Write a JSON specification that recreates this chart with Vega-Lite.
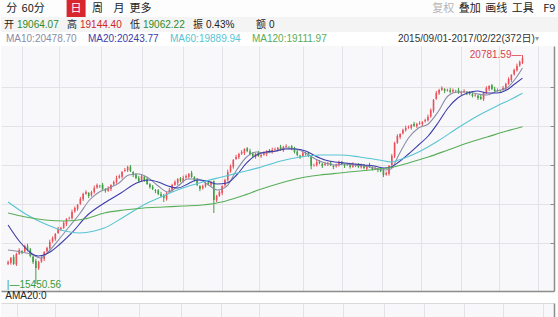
{
"$schema": "https://vega.github.io/schema/vega-lite/v6.json",
"padding": 0,
"background": "#ffffff",
"spacing": 0,
"config": {"view": {"stroke": null}, "concat": {"spacing": 0}, "font": "Liberation Sans", "axis": {"title": null, "labels": false, "ticks": false, "domain": false, "grid": false}},
"resolve": {"scale": {"x": "independent", "y": "independent", "color": "independent"}},
"datasets": {
"candles": [
{"k":0,"o":15920,"h":15998,"l":15890,"c":15963},
{"k":1,"o":15945,"h":16078,"l":15900,"c":16056},
{"k":2,"o":16081,"h":16129,"l":15896,"c":15916},
{"k":3,"o":15908,"h":16177,"l":15870,"c":16149},
{"k":4,"o":16155,"h":16282,"l":16130,"c":16242},
{"k":5,"o":16220,"h":16238,"l":16145,"c":16195},
{"k":6,"o":16210,"h":16365,"l":16182,"c":16335},
{"k":7,"o":16331,"h":16386,"l":16209,"c":16242},
{"k":8,"o":16254,"h":16289,"l":16072,"c":16102},
{"k":9,"o":16084,"h":16106,"l":15918,"c":15963},
{"k":10,"o":15988,"h":16036,"l":15450.56,"c":15823},
{"k":11,"o":15815,"h":15991,"l":15777,"c":15963},
{"k":12,"o":15969,"h":16096,"l":15944,"c":16056},
{"k":13,"o":16034,"h":16213,"l":15984,"c":16195},
{"k":14,"o":16210,"h":16319,"l":16182,"c":16289},
{"k":15,"o":16285,"h":16483,"l":16252,"c":16428},
{"k":16,"o":16440,"h":16556,"l":16410,"c":16521},
{"k":17,"o":16503,"h":16636,"l":16458,"c":16614},
{"k":18,"o":16639,"h":16779,"l":16619,"c":16731},
{"k":19,"o":16723,"h":16782,"l":16685,"c":16754},
{"k":20,"o":16760,"h":16911,"l":16735,"c":16871},
{"k":21,"o":16849,"h":16982,"l":16799,"c":16964},
{"k":22,"o":16979,"h":17017,"l":16951,"c":16987},
{"k":23,"o":16983,"h":17182,"l":16950,"c":17127},
{"k":24,"o":17139,"h":17255,"l":17109,"c":17220},
{"k":25,"o":17202,"h":17312,"l":17157,"c":17290},
{"k":26,"o":17315,"h":17477,"l":17295,"c":17429},
{"k":27,"o":17421,"h":17574,"l":17383,"c":17546},
{"k":28,"o":17552,"h":17632,"l":17527,"c":17592},
{"k":29,"o":17570,"h":17588,"l":17449,"c":17499},
{"k":30,"o":17514,"h":17622,"l":17486,"c":17592},
{"k":31,"o":17588,"h":17740,"l":17555,"c":17685},
{"k":32,"o":17697,"h":17790,"l":17667,"c":17755},
{"k":33,"o":17737,"h":17759,"l":17687,"c":17732},
{"k":34,"o":17757,"h":17805,"l":17642,"c":17662},
{"k":35,"o":17654,"h":17682,"l":17577,"c":17615},
{"k":36,"o":17621,"h":17725,"l":17596,"c":17685},
{"k":37,"o":17663,"h":17773,"l":17613,"c":17755},
{"k":38,"o":17770,"h":17855,"l":17742,"c":17825},
{"k":39,"o":17821,"h":17973,"l":17788,"c":17918},
{"k":40,"o":17930,"h":18000,"l":17900,"c":17965},
{"k":41,"o":17947,"h":18080,"l":17902,"c":18058},
{"k":42,"o":18083,"h":18152,"l":18063,"c":18104},
{"k":43,"o":18096,"h":18202,"l":18058,"c":18174},
{"k":44,"o":18180,"h":18220,"l":18056,"c":18081},
{"k":45,"o":18059,"h":18077,"l":17938,"c":17988},
{"k":46,"o":18003,"h":18033,"l":17890,"c":17918},
{"k":47,"o":17914,"h":17969,"l":17815,"c":17848},
{"k":48,"o":17860,"h":18000,"l":17830,"c":17965},
{"k":49,"o":17947,"h":17969,"l":17827,"c":17872},
{"k":50,"o":17897,"h":17945,"l":17759,"c":17779},
{"k":51,"o":17771,"h":17799,"l":17671,"c":17709},
{"k":52,"o":17715,"h":17755,"l":17637,"c":17662},
{"k":53,"o":17640,"h":17658,"l":17565,"c":17615},
{"k":54,"o":17630,"h":17660,"l":17518,"c":17546},
{"k":55,"o":17542,"h":17597,"l":17466,"c":17499},
{"k":56,"o":17511,"h":17546,"l":17360,"c":17453},
{"k":57,"o":17435,"h":17591,"l":17390,"c":17569},
{"k":58,"o":17594,"h":17687,"l":17574,"c":17639},
{"k":59,"o":17631,"h":17783,"l":17593,"c":17755},
{"k":60,"o":17761,"h":17865,"l":17736,"c":17825},
{"k":61,"o":17803,"h":17913,"l":17753,"c":17895},
{"k":62,"o":17910,"h":17940,"l":17820,"c":17848},
{"k":63,"o":17844,"h":17973,"l":17811,"c":17918},
{"k":64,"o":17930,"h":18000,"l":17900,"c":17965},
{"k":65,"o":17947,"h":18033,"l":17902,"c":18011},
{"k":66,"o":18036,"h":18084,"l":17921,"c":17941},
{"k":67,"o":17933,"h":17961,"l":17834,"c":17872},
{"k":68,"o":17878,"h":17918,"l":17730,"c":17755},
{"k":69,"o":17733,"h":17751,"l":17612,"c":17662},
{"k":70,"o":17677,"h":17762,"l":17649,"c":17732},
{"k":71,"o":17728,"h":17857,"l":17695,"c":17802},
{"k":72,"o":17814,"h":17849,"l":17749,"c":17779},
{"k":73,"o":17761,"h":17847,"l":17716,"c":17825},
{"k":74,"o":17840,"h":17860,"l":17103,"c":17406},
{"k":75,"o":17398,"h":17527,"l":17360,"c":17499},
{"k":76,"o":17505,"h":17632,"l":17480,"c":17592},
{"k":77,"o":17570,"h":17750,"l":17520,"c":17732},
{"k":78,"o":17747,"h":17902,"l":17719,"c":17872},
{"k":79,"o":17868,"h":18113,"l":17835,"c":18058},
{"k":80,"o":18070,"h":18232,"l":18040,"c":18197},
{"k":81,"o":18179,"h":18359,"l":18134,"c":18337},
{"k":82,"o":18362,"h":18455,"l":18342,"c":18407},
{"k":83,"o":18399,"h":18505,"l":18361,"c":18477},
{"k":84,"o":18483,"h":18563,"l":18458,"c":18523},
{"k":85,"o":18501,"h":18611,"l":18451,"c":18593},
{"k":86,"o":18608,"h":18638,"l":18519,"c":18547},
{"k":87,"o":18543,"h":18598,"l":18444,"c":18477},
{"k":88,"o":18489,"h":18524,"l":18400,"c":18430},
{"k":89,"o":18412,"h":18499,"l":18367,"c":18477},
{"k":90,"o":18502,"h":18550,"l":18410,"c":18430},
{"k":91,"o":18422,"h":18482,"l":18384,"c":18454},
{"k":92,"o":18460,"h":18540,"l":18435,"c":18500},
{"k":93,"o":18478,"h":18565,"l":18428,"c":18547},
{"k":94,"o":18562,"h":18592,"l":18495,"c":18523},
{"k":95,"o":18519,"h":18625,"l":18486,"c":18570},
{"k":96,"o":18582,"h":18628,"l":18552,"c":18593},
{"k":97,"o":18575,"h":18639,"l":18530,"c":18617},
{"k":98,"o":18642,"h":18690,"l":18550,"c":18570},
{"k":99,"o":18562,"h":18668,"l":18524,"c":18640},
{"k":100,"o":18646,"h":18703,"l":18621,"c":18663},
{"k":101,"o":18641,"h":18659,"l":18590,"c":18640},
{"k":102,"o":18655,"h":18685,"l":18565,"c":18593},
{"k":103,"o":18589,"h":18644,"l":18490,"c":18523},
{"k":104,"o":18535,"h":18570,"l":18424,"c":18454},
{"k":105,"o":18436,"h":18458,"l":18362,"c":18407},
{"k":106,"o":18432,"h":18548,"l":18412,"c":18500},
{"k":107,"o":18492,"h":18520,"l":18439,"c":18477},
{"k":108,"o":18483,"h":18523,"l":18405,"c":18430},
{"k":109,"o":18425,"h":18445,"l":18120,"c":18197},
{"k":110,"o":18212,"h":18251,"l":18184,"c":18221},
{"k":111,"o":18217,"h":18346,"l":18184,"c":18291},
{"k":112,"o":18303,"h":18338,"l":18237,"c":18267},
{"k":113,"o":18249,"h":18271,"l":18152,"c":18197},
{"k":114,"o":18222,"h":18292,"l":18202,"c":18244},
{"k":115,"o":18236,"h":18295,"l":18198,"c":18267},
{"k":116,"o":18273,"h":18313,"l":18196,"c":18221},
{"k":117,"o":18199,"h":18217,"l":18124,"c":18174},
{"k":118,"o":18189,"h":18251,"l":18161,"c":18221},
{"k":119,"o":18217,"h":18322,"l":18184,"c":18267},
{"k":120,"o":18279,"h":18314,"l":18214,"c":18244},
{"k":121,"o":18226,"h":18248,"l":18152,"c":18197},
{"k":122,"o":18232,"h":18270,"l":18201,"c":18221},
{"k":123,"o":18213,"h":18241,"l":18136,"c":18174},
{"k":124,"o":18180,"h":18284,"l":18155,"c":18244},
{"k":125,"o":18232,"h":18250,"l":18171,"c":18221},
{"k":126,"o":18236,"h":18266,"l":18146,"c":18174},
{"k":127,"o":18170,"h":18252,"l":18137,"c":18197},
{"k":128,"o":18209,"h":18244,"l":18121,"c":18151},
{"k":129,"o":18133,"h":18219,"l":18088,"c":18197},
{"k":130,"o":18222,"h":18270,"l":18154,"c":18174},
{"k":131,"o":18166,"h":18194,"l":18090,"c":18128},
{"k":132,"o":18134,"h":18191,"l":18109,"c":18151},
{"k":133,"o":18129,"h":18147,"l":18054,"c":18104},
{"k":134,"o":18119,"h":18149,"l":18053,"c":18081},
{"k":135,"o":18077,"h":18132,"l":17940,"c":17988},
{"k":136,"o":18000,"h":18070,"l":17970,"c":18035},
{"k":137,"o":18017,"h":18219,"l":17972,"c":18197},
{"k":138,"o":18222,"h":18478,"l":18202,"c":18430},
{"k":139,"o":18422,"h":18761,"l":18384,"c":18733},
{"k":140,"o":18739,"h":18936,"l":18714,"c":18896},
{"k":141,"o":18874,"h":18961,"l":18824,"c":18943},
{"k":142,"o":18958,"h":19066,"l":18930,"c":19036},
{"k":143,"o":19032,"h":19137,"l":18999,"c":19082},
{"k":144,"o":19094,"h":19140,"l":19064,"c":19105},
{"k":145,"o":19087,"h":19174,"l":19042,"c":19152},
{"k":146,"o":19177,"h":19225,"l":19109,"c":19129},
{"k":147,"o":19121,"h":19203,"l":19083,"c":19175},
{"k":148,"o":19181,"h":19239,"l":19156,"c":19199},
{"k":149,"o":19177,"h":19240,"l":19127,"c":19222},
{"k":150,"o":19237,"h":19298,"l":19209,"c":19268},
{"k":151,"o":19264,"h":19393,"l":19231,"c":19338},
{"k":152,"o":19350,"h":19536,"l":19320,"c":19501},
{"k":153,"o":19483,"h":19756,"l":19438,"c":19734},
{"k":154,"o":19759,"h":19945,"l":19739,"c":19897},
{"k":155,"o":19889,"h":19995,"l":19851,"c":19967},
{"k":156,"o":19973,"h":20053,"l":19948,"c":20013},
{"k":157,"o":19991,"h":20009,"l":19894,"c":19944},
{"k":158,"o":19959,"h":19997,"l":19931,"c":19967},
{"k":159,"o":19963,"h":20018,"l":19887,"c":19920},
{"k":160,"o":19932,"h":20002,"l":19902,"c":19967},
{"k":161,"o":19949,"h":19971,"l":19899,"c":19944},
{"k":162,"o":19969,"h":20017,"l":19877,"c":19897},
{"k":163,"o":19889,"h":19948,"l":19851,"c":19920},
{"k":164,"o":19926,"h":19984,"l":19901,"c":19944},
{"k":165,"o":19922,"h":19940,"l":19847,"c":19897},
{"k":166,"o":19912,"h":19942,"l":19846,"c":19874},
{"k":167,"o":19870,"h":19925,"l":19794,"c":19827},
{"k":168,"o":19839,"h":19886,"l":19809,"c":19851},
{"k":169,"o":19833,"h":19855,"l":19735,"c":19780},
{"k":170,"o":19805,"h":19853,"l":19737,"c":19757},
{"k":171,"o":19749,"h":19925,"l":19711,"c":19897},
{"k":172,"o":19903,"h":20053,"l":19878,"c":20013},
{"k":173,"o":19991,"h":20078,"l":19941,"c":20060},
{"k":174,"o":20075,"h":20105,"l":19962,"c":19990},
{"k":175,"o":19986,"h":20041,"l":19911,"c":19944},
{"k":176,"o":19956,"h":20002,"l":19926,"c":19967},
{"k":177,"o":19949,"h":19971,"l":19899,"c":19944},
{"k":178,"o":19969,"h":20061,"l":19949,"c":20013},
{"k":179,"o":20005,"h":20135,"l":19967,"c":20107},
{"k":180,"o":20113,"h":20263,"l":20088,"c":20223},
{"k":181,"o":20201,"h":20334,"l":20151,"c":20316},
{"k":182,"o":20331,"h":20463,"l":20303,"c":20433},
{"k":183,"o":20429,"h":20581,"l":20396,"c":20526},
{"k":184,"o":20538,"h":20654,"l":20508,"c":20619},
{"k":185,"o":20600,"h":20781.59,"l":20570,"c":20712}
],
"ma": [
{"s":"MA10","k":0,"v":16242},{"s":"MA10","k":4.6,"v":16195},{"s":"MA10","k":8.1,"v":16149},{"s":"MA10","k":11.6,"v":16056},{"s":"MA10","k":15.1,"v":16242},{"s":"MA10","k":18.7,"v":16521},{"s":"MA10","k":22.2,"v":16801},{"s":"MA10","k":25.7,"v":17080},{"s":"MA10","k":29.3,"v":17406},{"s":"MA10","k":32.8,"v":17592},{"s":"MA10","k":36.3,"v":17685},{"s":"MA10","k":39.9,"v":17802},{"s":"MA10","k":43.4,"v":17988},{"s":"MA10","k":46.9,"v":18011},{"s":"MA10","k":50.5,"v":17918},{"s":"MA10","k":54.0,"v":17732},{"s":"MA10","k":57.5,"v":17592},{"s":"MA10","k":61.1,"v":17732},{"s":"MA10","k":64.6,"v":17895},{"s":"MA10","k":68.1,"v":17895},{"s":"MA10","k":71.6,"v":17779},{"s":"MA10","k":75.2,"v":17639},{"s":"MA10","k":78.7,"v":17732},{"s":"MA10","k":82.2,"v":18104},{"s":"MA10","k":85.8,"v":18407},{"s":"MA10","k":89.3,"v":18523},{"s":"MA10","k":92.8,"v":18500},{"s":"MA10","k":96.4,"v":18547},{"s":"MA10","k":99.9,"v":18617},{"s":"MA10","k":103.4,"v":18593},{"s":"MA10","k":107.0,"v":18500},{"s":"MA10","k":110.5,"v":18360},{"s":"MA10","k":114.0,"v":18268},{"s":"MA10","k":117.5,"v":18221},{"s":"MA10","k":121.1,"v":18244},{"s":"MA10","k":124.6,"v":18221},{"s":"MA10","k":128.1,"v":18198},{"s":"MA10","k":131.7,"v":18151},{"s":"MA10","k":135.2,"v":18104},{"s":"MA10","k":137.7,"v":18128},{"s":"MA10","k":140.5,"v":18454},{"s":"MA10","k":144.0,"v":18849},{"s":"MA10","k":147.6,"v":19082},{"s":"MA10","k":151.1,"v":19175},{"s":"MA10","k":154.6,"v":19455},{"s":"MA10","k":158.2,"v":19827},{"s":"MA10","k":161.7,"v":19920},{"s":"MA10","k":165.2,"v":19920},{"s":"MA10","k":168.8,"v":19874},{"s":"MA10","k":172.3,"v":19850},{"s":"MA10","k":175.8,"v":19944},{"s":"MA10","k":179.3,"v":20013},{"s":"MA10","k":182.9,"v":20269},{"s":"MA10","k":185,"v":20479},
{"s":"MA20","k":0,"v":16824},{"s":"MA20","k":4.6,"v":16405},{"s":"MA20","k":10.9,"v":16102},{"s":"MA20","k":15.1,"v":16195},{"s":"MA20","k":18.7,"v":16382},{"s":"MA20","k":22.9,"v":16638},{"s":"MA20","k":28.6,"v":17057},{"s":"MA20","k":34.6,"v":17336},{"s":"MA20","k":40.6,"v":17569},{"s":"MA20","k":46.2,"v":17802},{"s":"MA20","k":50.5,"v":17872},{"s":"MA20","k":54.0,"v":17825},{"s":"MA20","k":57.5,"v":17732},{"s":"MA20","k":61.1,"v":17685},{"s":"MA20","k":64.6,"v":17779},{"s":"MA20","k":68.1,"v":17872},{"s":"MA20","k":71.6,"v":17849},{"s":"MA20","k":75.2,"v":17779},{"s":"MA20","k":78.7,"v":17802},{"s":"MA20","k":82.2,"v":17988},{"s":"MA20","k":85.8,"v":18268},{"s":"MA20","k":89.3,"v":18454},{"s":"MA20","k":92.8,"v":18523},{"s":"MA20","k":96.4,"v":18547},{"s":"MA20","k":99.9,"v":18593},{"s":"MA20","k":103.4,"v":18593},{"s":"MA20","k":107.0,"v":18547},{"s":"MA20","k":110.5,"v":18430},{"s":"MA20","k":114.0,"v":18337},{"s":"MA20","k":117.5,"v":18291},{"s":"MA20","k":121.1,"v":18268},{"s":"MA20","k":124.6,"v":18244},{"s":"MA20","k":128.1,"v":18221},{"s":"MA20","k":131.7,"v":18198},{"s":"MA20","k":135.2,"v":18151},{"s":"MA20","k":137.7,"v":18175},{"s":"MA20","k":140.5,"v":18291},{"s":"MA20","k":144.0,"v":18477},{"s":"MA20","k":147.6,"v":18686},{"s":"MA20","k":151.1,"v":18896},{"s":"MA20","k":154.6,"v":19198},{"s":"MA20","k":158.2,"v":19548},{"s":"MA20","k":161.7,"v":19781},{"s":"MA20","k":165.2,"v":19897},{"s":"MA20","k":168.8,"v":19944},{"s":"MA20","k":172.3,"v":19897},{"s":"MA20","k":175.8,"v":19897},{"s":"MA20","k":179.3,"v":19967},{"s":"MA20","k":182.2,"v":20106},{"s":"MA20","k":185,"v":20244},
{"s":"MA60","k":0,"v":17360},{"s":"MA60","k":6.3,"v":17080},{"s":"MA60","k":13.4,"v":16847},{"s":"MA60","k":20.4,"v":16684},{"s":"MA60","k":25.7,"v":16638},{"s":"MA60","k":31.0,"v":16684},{"s":"MA60","k":34.6,"v":16754},{"s":"MA60","k":41.6,"v":17010},{"s":"MA60","k":48.7,"v":17290},{"s":"MA60","k":55.8,"v":17499},{"s":"MA60","k":62.8,"v":17685},{"s":"MA60","k":69.9,"v":17825},{"s":"MA60","k":76.9,"v":17942},{"s":"MA60","k":84.0,"v":18058},{"s":"MA60","k":91.1,"v":18175},{"s":"MA60","k":98.1,"v":18314},{"s":"MA60","k":105.2,"v":18407},{"s":"MA60","k":112.2,"v":18454},{"s":"MA60","k":119.3,"v":18454},{"s":"MA60","k":126.4,"v":18407},{"s":"MA60","k":133.4,"v":18337},{"s":"MA60","k":137.7,"v":18291},{"s":"MA60","k":140.5,"v":18337},{"s":"MA60","k":147.6,"v":18523},{"s":"MA60","k":154.6,"v":18780},{"s":"MA60","k":161.7,"v":19082},{"s":"MA60","k":168.8,"v":19361},{"s":"MA60","k":175.8,"v":19594},{"s":"MA60","k":181.1,"v":19757},{"s":"MA60","k":185,"v":19890},
{"s":"MA120","k":0,"v":17103},{"s":"MA120","k":6.3,"v":17010},{"s":"MA120","k":13.4,"v":16940},{"s":"MA120","k":20.4,"v":16917},{"s":"MA120","k":27.5,"v":16964},{"s":"MA120","k":34.6,"v":17103},{"s":"MA120","k":41.6,"v":17173},{"s":"MA120","k":48.7,"v":17220},{"s":"MA120","k":55.8,"v":17243},{"s":"MA120","k":62.8,"v":17266},{"s":"MA120","k":69.9,"v":17290},{"s":"MA120","k":76.9,"v":17360},{"s":"MA120","k":84.0,"v":17499},{"s":"MA120","k":91.1,"v":17662},{"s":"MA120","k":98.1,"v":17802},{"s":"MA120","k":105.2,"v":17918},{"s":"MA120","k":112.2,"v":17988},{"s":"MA120","k":119.3,"v":18035},{"s":"MA120","k":126.4,"v":18081},{"s":"MA120","k":133.4,"v":18128},{"s":"MA120","k":138.7,"v":18175},{"s":"MA120","k":144.0,"v":18268},{"s":"MA120","k":151.1,"v":18407},{"s":"MA120","k":158.2,"v":18570},{"s":"MA120","k":165.2,"v":18733},{"s":"MA120","k":172.3,"v":18873},{"s":"MA120","k":179.3,"v":19012},{"s":"MA120","k":185,"v":19112}
]
},
"vconcat": [
{
"width": 558, "height": 17, "view": {"fill": "#fdfdfd"},
"resolve": {"scale": {"x": "independent", "color": "independent"}},
"layer": [
{"data": {"values": [{"t": "日"}]}, "mark": {"type": "rect", "color": "#d9262c", "width": 19},
 "encoding": {"x": {"field": "t", "type": "nominal", "scale": {"type": "band", "domain": ["分", "60分", "_", "日", "周", "月", "更多"], "range": [0, 150.2], "paddingInner": 0, "paddingOuter": 0}, "axis": null}}},
{"data": {"values": [{"t": "分"}, {"t": "60分"}, {"t": "日"}, {"t": "周"}, {"t": "月"}, {"t": "更多"}]},
 "mark": {"type": "text", "font": "Noto Sans CJK SC", "fontSize": 11, "baseline": "middle", "align": "center"},
 "encoding": {"x": {"field": "t", "type": "nominal", "bandPosition": 0.5, "scale": {"type": "band", "domain": ["分", "60分", "_", "日", "周", "月", "更多"], "range": [0, 150.2], "paddingInner": 0, "paddingOuter": 0}, "axis": null},
  "text": {"field": "t", "type": "nominal"},
  "color": {"condition": {"test": "datum.t === '日'", "value": "#ffffff"}, "value": "#222222"}}},
{"data": {"values": [{"u": "复权"}, {"u": "叠加"}, {"u": "画线"}, {"u": "工具"}, {"u": "F9"}]},
 "mark": {"type": "text", "font": "Noto Sans CJK SC", "fontSize": 11, "baseline": "middle", "align": "center"},
 "encoding": {"x": {"field": "u", "type": "nominal", "bandPosition": 0.5, "scale": {"type": "band", "domain": ["复权", "叠加", "画线", "工具", "F9"], "range": [429, 561.5], "paddingInner": 0, "paddingOuter": 0}, "axis": null},
  "text": {"field": "u", "type": "nominal"},
  "color": {"condition": {"test": "datum.u === '复权'", "value": "#b5b5b5"}, "value": "#222222"}}}
]
},
{
"width": 558, "height": 15, "view": {"fill": "#f4f4f4"},
"data": {"values": [{"n": "开", "v": "19064.07", "s": "d"}, {"n": "高", "v": "19144.40", "s": "u"}, {"n": "低", "v": "19062.22", "s": "d"}, {"n": "振", "v": "0.43%", "s": "f"}, {"n": "额", "v": "0", "s": "f"}]},
"layer": [
{"mark": {"type": "text", "font": "Noto Sans CJK SC", "fontSize": 10, "baseline": "middle", "align": "left", "color": "#222222"},
 "encoding": {"x": {"field": "n", "type": "nominal", "bandPosition": 0, "scale": {"type": "band", "domain": ["开", "高", "低", "振", "额"], "range": [3, 318], "paddingInner": 0, "paddingOuter": 0}, "axis": null},
  "text": {"field": "n", "type": "nominal"}}},
{"mark": {"type": "text", "font": "Liberation Sans", "fontSize": 10, "baseline": "middle", "align": "left", "dx": 13},
 "encoding": {"x": {"field": "n", "type": "nominal", "bandPosition": 0, "scale": {"type": "band", "domain": ["开", "高", "低", "振", "额"], "range": [3, 318], "paddingInner": 0, "paddingOuter": 0}, "axis": null},
  "text": {"field": "v", "type": "nominal"},
  "color": {"field": "s", "type": "nominal", "scale": {"domain": ["d", "u", "f"], "range": ["#2e8b2e", "#d0252b", "#222222"]}, "legend": null}}}
]
},
{
"width": 558, "height": 14, "view": {"fill": "#ffffff"},
"resolve": {"scale": {"x": "independent", "color": "independent"}},
"layer": [
{"data": {"values": [{"m": "MA10", "t": "MA10:20478.70"}, {"m": "MA20", "t": "MA20:20243.77"}, {"m": "MA60", "t": "MA60:19889.94"}, {"m": "MA120", "t": "MA120:19111.97"}]},
 "mark": {"type": "text", "font": "Liberation Sans", "fontSize": 10, "baseline": "middle", "align": "left"},
 "encoding": {"x": {"field": "m", "type": "nominal", "bandPosition": 0, "scale": {"type": "band", "domain": ["MA10", "MA20", "MA60", "MA120"], "range": [5, 333], "paddingInner": 0, "paddingOuter": 0}, "axis": null},
  "text": {"field": "t", "type": "nominal"},
  "color": {"field": "m", "type": "nominal", "scale": {"domain": ["MA10", "MA20", "MA60", "MA120"], "range": ["#8a8ca6", "#3c3caa", "#58c4d4", "#58ad58"]}, "legend": null}}},
{"data": {"values": [{"r": "d", "t": "2015/09/01-2017/02/22(372日)"}]},
 "mark": {"type": "text", "font": "Liberation Sans, Noto Sans CJK SC", "fontSize": 10, "baseline": "middle", "align": "left", "color": "#333333"},
 "encoding": {"x": {"field": "r", "type": "nominal", "bandPosition": 0, "scale": {"type": "band", "domain": ["d"], "range": [397, 546], "paddingInner": 0, "paddingOuter": 0}, "axis": null},
  "text": {"field": "t", "type": "nominal"}}},
{"data": {"values": [{"w": "v", "t": "▾"}]},
 "mark": {"type": "text", "font": "DejaVu Sans", "fontSize": 8, "baseline": "middle", "align": "center", "color": "#9a9a9a"},
 "encoding": {"x": {"field": "w", "type": "nominal", "bandPosition": 0.5, "scale": {"type": "band", "domain": ["v"], "range": [532, 540], "paddingInner": 0, "paddingOuter": 0}, "axis": null},
  "text": {"field": "t", "type": "nominal"}}}
]
},
{
"width": 553, "height": 245, "view": {"fill": "#f8f8fa"},
"layer": [
{"data": {"name": "candles"}, "mark": {"type": "rule", "strokeWidth": 1},
 "encoding": {
  "x": {"field": "k", "type": "quantitative", "scale": {"domain": [-0.742, 194.53], "nice": false, "zero": false},
   "axis": {"orient": "bottom", "values": [4.91, 18.33, 33.51, 47.99, 62.82, 76.94, 90.36, 105.9, 120.0, 134.5, 148.6, 162.8, 176.5, 190.6], "labels": false, "ticks": false, "domain": true, "domainColor": "#8c8c8c", "domainWidth": 1.5, "grid": true, "gridColor": "#e2e2e7", "title": null}},
  "y": {"field": "l", "type": "quantitative", "scale": {"domain": [15287.5, 20991], "nice": false, "zero": false},
   "axis": {"orient": "right", "values": [16405, 17313, 18221, 19129, 20036], "labels": false, "ticks": true, "tickSize": -4, "tickColor": "#8c8c8c", "domain": true, "domainColor": "#8c8c8c", "domainWidth": 1.5, "grid": true, "gridColor": "#e2e2e7", "title": null}},
  "y2": {"field": "h"},
  "color": {"condition": {"test": "datum.c >= datum.o", "value": "#e9505a"}, "value": "#3f9e3f"}
 }},
{"data": {"name": "candles"}, "mark": {"type": "bar", "width": 1.6},
 "encoding": {
  "x": {"field": "k", "type": "quantitative"},
  "y": {"field": "o", "type": "quantitative"},
  "y2": {"field": "c"},
  "color": {"condition": {"test": "datum.c >= datum.o", "value": "#e9505a"}, "value": "#3f9e3f"}
 }},
{"data": {"name": "ma"}, "mark": {"type": "line", "strokeWidth": 1.1, "interpolate": "monotone"},
 "encoding": {
  "x": {"field": "k", "type": "quantitative"},
  "y": {"field": "v", "type": "quantitative"},
  "color": {"field": "s", "type": "nominal", "scale": {"domain": ["MA10", "MA20", "MA60", "MA120"], "range": ["#8a8ca6", "#3c3caa", "#58c4d4", "#58ad58"]}, "legend": null}
 }},
{"data": {"values": [{"k": 185, "p": 20781.59, "t": "20781.59—"}]}, "mark": {"type": "text", "align": "right", "baseline": "middle", "dx": -1, "fontSize": 10, "font": "Liberation Sans", "color": "#d9434e"},
 "encoding": {"x": {"field": "k", "type": "quantitative"}, "y": {"field": "p", "type": "quantitative"}, "text": {"field": "t", "type": "nominal"}}},
{"data": {"values": [{"k": 10, "p": 15450.56, "t": "|—15450.56"}]}, "mark": {"type": "text", "align": "left", "baseline": "middle", "dx": -29, "dy": 1, "fontSize": 10, "font": "Liberation Sans", "color": "#3a9a3a"},
 "encoding": {"x": {"field": "k", "type": "quantitative"}, "y": {"field": "p", "type": "quantitative"}, "text": {"field": "t", "type": "nominal"}}}
]
},
{
"width": 553, "height": 14, "view": {"fill": "#f8f8fa"},
"title": {"text": "AMA20:0", "anchor": "start", "fontSize": 10, "font": "Liberation Sans", "fontWeight": "normal", "color": "#222222", "offset": 2, "dx": 5},
"data": {"values": [{"k": 0, "a": 0}]},
"mark": {"type": "point", "opacity": 0},
"encoding": {
 "x": {"field": "k", "type": "quantitative", "scale": {"domain": [-0.742, 194.53], "nice": false, "zero": false},
  "axis": {"orient": "top", "values": [4.91, 18.33, 33.51, 47.99, 62.82, 76.94, 90.36, 105.9, 120.0, 134.5, 148.6, 162.8, 176.5, 190.6], "labels": false, "ticks": false, "domain": true, "domainColor": "#dadada", "grid": true, "gridColor": "#e2e2e7", "title": null}},
 "y": {"field": "a", "type": "quantitative", "scale": {"domain": [0, 1]},
  "axis": {"orient": "right", "values": [], "labels": false, "ticks": false, "grid": false, "domain": true, "domainColor": "#8c8c8c", "domainWidth": 1.5, "title": null}}
}
}
]
}
